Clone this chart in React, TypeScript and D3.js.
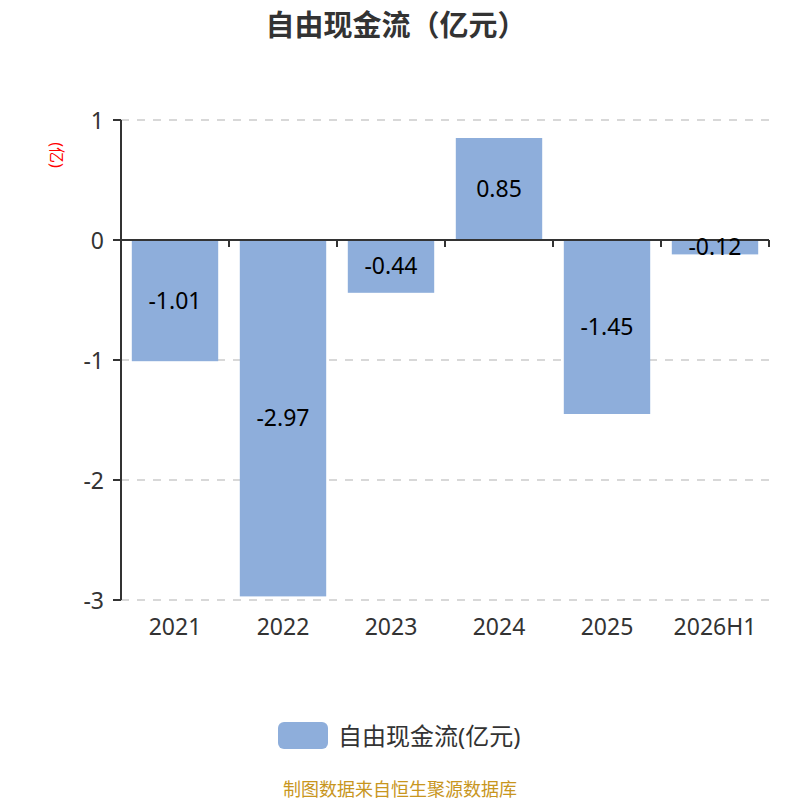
import React from "react";
import * as d3 from "d3";

const categories = ["2021", "2022", "2023", "2024", "2025", "2026H1"];
const values = [-1.01, -2.97, -0.44, 0.85, -1.45, -0.12];
const yTicks = [1, 0, -1, -2, -3];
const title = "自由现金流（亿元）";
const yName = "(亿)";
const legendLabel = "自由现金流(亿元)";
const footer = "制图数据来自恒生聚源数据库";

const W = 800;
const H = 800;
const left = 121;
const right = 769;
const top = 120;
const bottom = 600;
const barColor = "#8EAEDB";
const font = "'Noto Sans', 'Noto Sans CJK SC', sans-serif";

export default function App() {
  const x = d3.scaleBand<string>().domain(categories).range([left, right]).paddingInner(0.2).paddingOuter(0.1);
  const band = d3.scaleBand<string>().domain(categories).range([left, right]);
  const y = d3.scaleLinear().domain([-3, 1]).range([bottom, top]);
  const y0 = y(0);
  const boundaries = d3.range(categories.length + 1).map((i) => left + i * band.step());

  return (
    <svg width={W} height={H} style={{ position: "absolute", left: 0, top: 0, background: "#fff" }} fontFamily={font}>
      <text x={396} y={24} textAnchor="middle" dominantBaseline="central" fontSize={29} fontWeight="bold" fill="#333">{title}</text>
      <text transform={`translate(57,155) rotate(90)`} textAnchor="middle" dominantBaseline="central" fontSize={16} fill="#ff0000">{yName}</text>
      {yTicks.map((t) => (
        <g key={t}>
          {t !== 0 && (
            <line x1={left} x2={right} y1={y(t)} y2={y(t)} stroke="#ccc" strokeWidth={1.5} strokeDasharray="8,8" />
          )}
          <line x1={left - 8} x2={left} y1={y(t)} y2={y(t)} stroke="#333" strokeWidth={2} />
          <text x={104} y={y(t)} textAnchor="end" dominantBaseline="central" fontSize={23} fill="#333">{t}</text>
        </g>
      ))}
      {values.map((v, i) => {
        const c = categories[i];
        const yt = y(Math.max(0, v));
        const yb = y(Math.min(0, v));
        return (
          <g key={c}>
            <rect x={x(c)} y={yt} width={x.bandwidth()} height={yb - yt} fill={barColor} />
          </g>
        );
      })}
      <line x1={left} x2={left} y1={top} y2={bottom} stroke="#333" strokeWidth={2} />
      <line x1={left} x2={right} y1={y0} y2={y0} stroke="#333" strokeWidth={2} />
      {boundaries.map((b, i) => (
        <line key={i} x1={b} x2={b} y1={y0} y2={y0 + 7} stroke="#333" strokeWidth={2} />
      ))}
      {values.map((v, i) => {
        const c = categories[i];
        const cy = (y(v) + y0) / 2;
        return (
          <text key={c} x={(x(c) as number) + x.bandwidth() / 2} y={cy - 1} textAnchor="middle" dominantBaseline="central" fontSize={23} fill="#000">
            {v.toFixed(2)}
          </text>
        );
      })}
      {categories.map((c) => (
        <text key={c} x={(band(c) as number) + band.bandwidth() / 2} y={626} textAnchor="middle" dominantBaseline="central" fontSize={23} fill="#333">{c}</text>
      ))}
      <rect x={278} y={722} width={50} height={27} rx={6} fill={barColor} />
      <text x={338} y={735} dominantBaseline="central" fontSize={24} fill="#333">{legendLabel}</text>
      <text x={400} y={789} textAnchor="middle" dominantBaseline="central" fontSize={18} fill="#C8961E">{footer}</text>
    </svg>
  );
}
